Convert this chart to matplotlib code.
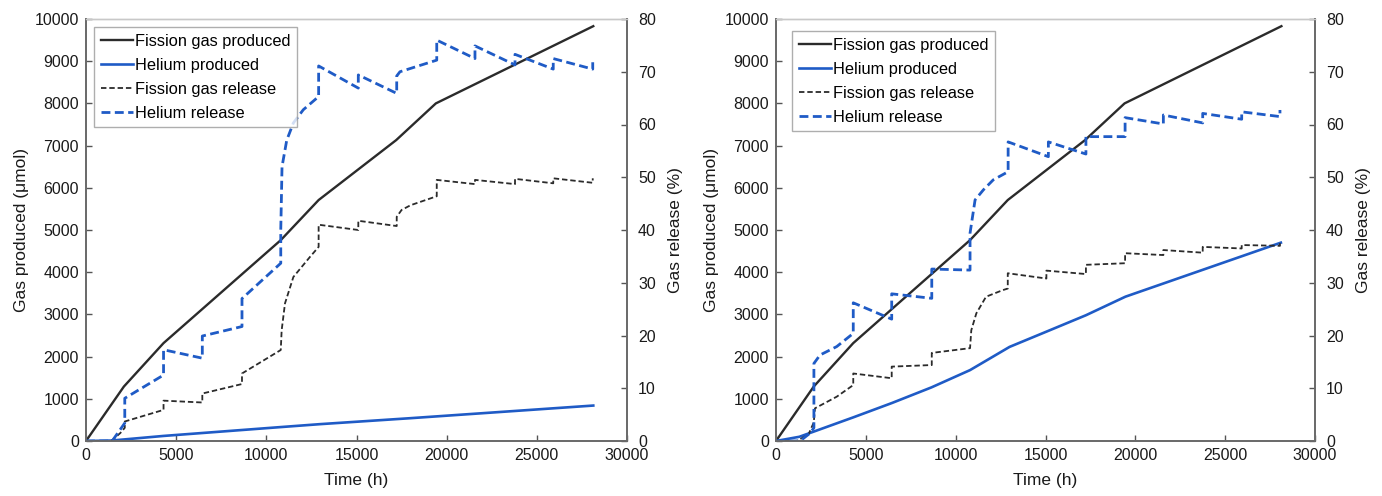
import matplotlib.pyplot as plt
from matplotlib.lines import Line2D

plt.rcParams["font.family"] = ["Liberation Sans", "DejaVu Sans"]

# fission gas produced (umol), same irradiation history in both panels
fg_prod_t = [0, 2100, 4300, 10800, 12900, 17200, 19400, 28130]
fg_prod_v = [0, 1290, 2320, 4760, 5710, 7130, 8000, 9830]

# left panel
he_prod_left_t = [0, 1400, 4300, 10800, 13000, 17970, 28130]
he_prod_left_v = [0, 10, 120, 330, 400, 540, 840]

fg_rel_left_t = [0, 1400, 1900, 2150, 2150, 4300, 4300, 6450, 6450, 8650, 8650, 10800,
                 10850, 11035, 11500, 12420, 12900, 12900, 15100, 15100, 17230, 17230,
                 17500, 18000, 19450, 19450, 21570, 21570, 23790, 23790, 25910, 25910,
                 28100, 28100]
fg_rel_left_v = [0, 0, 1.5, 2.5, 3.7, 5.9, 7.65, 7.3, 9.0, 10.8, 12.8, 17.25,
                 21.0, 26.1, 31.1, 34.9, 36.8, 41.0, 40.0, 41.75, 40.75, 42.5,
                 43.8, 44.7, 46.4, 49.5, 48.7, 49.5, 48.7, 49.7, 48.85, 49.8,
                 48.95, 49.8]

he_rel_left_t = [0, 1450, 2150, 2150, 4300, 4300, 6450, 6450, 8650, 8650, 10800,
                 10800, 10830, 10870, 11130, 11500, 12050, 12900, 12900, 15100, 15100,
                 17230, 17230, 17410, 19450, 19450, 21570, 21570, 23790, 23790,
                 25910, 25910, 28100, 28100]
he_rel_left_v = [0, 0, 3.4, 8.1, 12.5, 17.3, 15.7, 19.9, 21.7, 27.0, 33.7,
                 40.0, 45.0, 52.0, 57.0, 60.3, 62.8, 65.3, 71.1, 66.9, 69.4,
                 65.9, 69.2, 70.0, 72.2, 76.0, 72.5, 74.9, 71.3, 73.3,
                 70.5, 72.5, 70.5, 71.8]

# right panel
he_prod_right_t = [0, 1300, 2150, 4300, 6450, 8650, 10800, 13000, 15100, 17250, 19450, 28100]
he_prod_right_v = [0, 100, 230, 560, 900, 1270, 1680, 2230, 2600, 2980, 3420, 4700]

fg_rel_right_t = [0, 1150, 1800, 2100, 2170, 3380, 4300, 4300, 6440, 6440, 8670, 8670,
                  10800, 10870, 11150, 11690, 12620, 12900, 12900, 15050, 15050,
                  17250, 17250, 19430, 19430, 21560, 21560, 23750, 23750, 25920,
                  25920, 28050, 28050]
fg_rel_right_v = [0, 0, 1.2, 3.5, 6.2, 8.4, 10.6, 12.8, 11.9, 14.1, 14.4, 16.7,
                  17.6, 21.0, 24.2, 27.35, 28.6, 28.9, 31.8, 30.8, 32.3,
                  31.65, 33.4, 33.7, 35.6, 35.25, 36.2, 35.7, 36.8, 36.5,
                  37.15, 37.0, 37.5]

he_rel_right_t = [0, 1340, 1900, 2110, 2110, 2450, 3380, 4300, 4300, 6440, 6440, 8670,
                  8670, 10800, 10800, 11080, 11540, 12090, 12920, 12920, 15160, 15160,
                  17250, 17250, 19430, 19430, 21560, 21560, 23750, 23750, 25920,
                  25920, 28050, 28050]
he_rel_right_v = [0, 0, 1.5, 2.5, 14.7, 16.3, 17.9, 20.4, 26.2, 23.1, 27.9, 27.05,
                  32.6, 32.4, 39.4, 45.7, 47.6, 49.5, 51.05, 56.7, 53.9, 56.7,
                  54.4, 57.7, 57.7, 61.3, 60.1, 61.8, 60.3, 62.1, 61.0,
                  62.4, 61.5, 62.75]

BLACK = "#2b2b2b"
BLUE = "#1f5bc6"
LABEL_COLOR = "#1a1a1a"

fig = plt.figure(figsize=(13.82, 4.96), dpi=100)
W, H = 1382, 496


def draw_panel(rect, he_prod, fg_rel, he_rel, legend_offset):
    ax = fig.add_axes(rect)
    ax.plot(fg_prod_t, fg_prod_v, color=BLACK, lw=1.7)
    ax.plot(*he_prod, color=BLUE, lw=1.9)
    ax.set_xlim(0, 30000)
    ax.set_ylim(0, 10000)
    ax.set_xticks(range(0, 30001, 5000))
    ax.set_yticks(range(0, 10001, 1000))
    ax.set_xlabel("Time (h)", fontsize=12.5, color=LABEL_COLOR, labelpad=7)
    ax.set_ylabel("Gas produced (μmol)", fontsize=12.5, color=LABEL_COLOR, labelpad=4)

    ax2 = ax.twinx()
    ax2.plot(*fg_rel, color=BLACK, lw=1.3, dashes=(3, 1.6))
    ax2.plot(*he_rel, color=BLUE, lw=2.0, dashes=(3.2, 1.6))
    ax2.set_ylim(0, 80)
    ax2.set_yticks(range(0, 81, 10))
    ax2.set_ylabel("Gas release (%)", fontsize=12.5, color=LABEL_COLOR, labelpad=9)

    for a in (ax, ax2):
        a.tick_params(direction="in", length=4, width=1, labelsize=11.5,
                      colors="#555555", labelcolor=LABEL_COLOR, pad=5)
        for side in ("left", "bottom", "right"):
            a.spines[side].set_color("#6b6b6b")
            a.spines[side].set_linewidth(1.3)
        a.spines["top"].set_color("#c8c8c8")
        a.spines["top"].set_linewidth(1.0)
    ax.tick_params(axis="y", labelright=False)
    ax2.tick_params(axis="y", pad=8)

    handles = [
        Line2D([], [], color=BLACK, lw=1.7),
        Line2D([], [], color=BLUE, lw=1.9),
        Line2D([], [], color=BLACK, lw=1.3, dashes=(3, 1.6)),
        Line2D([], [], color=BLUE, lw=2.0, dashes=(3.2, 1.6)),
    ]
    labels = ["Fission gas produced", "Helium produced", "Fission gas release", "Helium release"]
    leg = ax2.legend(handles, labels, loc="upper left", bbox_to_anchor=legend_offset,
                     fontsize=11.8, frameon=True, fancybox=False, handlelength=2.0,
                     handletextpad=0.1, borderpad=0.4, labelspacing=0.55,
                     borderaxespad=0)
    leg.get_frame().set_edgecolor("#9a9a9a")
    leg.get_frame().set_linewidth(1.0)
    return ax, ax2


draw_panel([86 / W, 55 / H, 541 / W, 422 / H],
           (he_prod_left_t, he_prod_left_v),
           (fg_rel_left_t, fg_rel_left_v),
           (he_rel_left_t, he_rel_left_v),
           (8 / 541, 1 - 8 / 422))
draw_panel([776 / W, 55 / H, 539 / W, 422 / H],
           (he_prod_right_t, he_prod_right_v),
           (fg_rel_right_t, fg_rel_right_v),
           (he_rel_right_t, he_rel_right_v),
           (16 / 539, 1 - 12 / 422))

fig.savefig("out.png", dpi=100)
